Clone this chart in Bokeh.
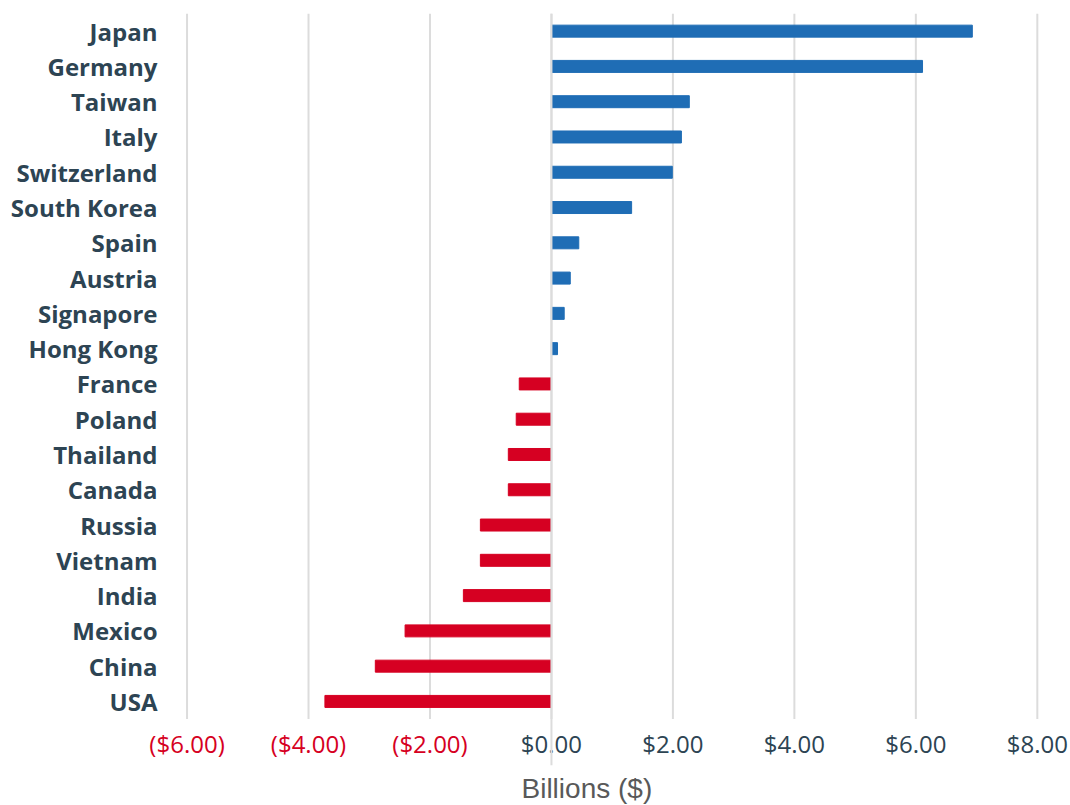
from bokeh.plotting import figure
from bokeh.models import Range1d, FixedTicker, ColumnDataSource, Span, Title
from bokeh.core.properties import value
from bokeh.embed import file_html
from bokeh.resources import INLINE

countries = ["Japan", "Germany", "Taiwan", "Italy", "Switzerland", "South Korea",
             "Spain", "Austria", "Signapore", "Hong Kong", "France", "Poland",
             "Thailand", "Canada", "Russia", "Vietnam", "India", "Mexico", "China", "USA"]
values = [6.93, 6.11, 2.27, 2.14, 1.99, 1.32, 0.45, 0.31, 0.21, 0.10,
          -0.53, -0.58, -0.71, -0.71, -1.17, -1.17, -1.45, -2.41, -2.90, -3.73]
x_ticks = [-6, -4, -2, 0, 2, 4, 6, 8]
x_tick_labels = ["($6.00)", "($4.00)", "($2.00)", "$0.00", "$2.00", "$4.00", "$6.00", "$8.00"]

BLUE = "#1f6db5"
RED = "#d60022"
DARK = "#2d4453"
GRID = "#dcdcdc"

n = len(countries)
ypos = [n - 1 - i for i in range(n)]
src = ColumnDataSource(dict(
    y=ypos,
    right=values,
    left=[0] * n,
    color=[BLUE if v >= 0 else RED for v in values],
))

bottom_pad = 1.316  # extra room (in rows) under the bars for the tick labels
p = figure(frame_width=928, frame_height=752, output_backend="svg", toolbar_location=None,
           x_range=Range1d(-6.75, 8.53), y_range=Range1d(-0.5 - bottom_pad, n - 0.5),
           min_border_left=141, min_border_right=0, min_border_top=13, min_border_bottom=0)
p.outline_line_color = None
p.background_fill_color = "white"

# vertical grid lines, only over the bar area
p.segment(x0=x_ticks, x1=x_ticks, y0=[-0.5] * len(x_ticks), y1=[n - 0.5] * len(x_ticks),
          line_color=GRID, line_width=2)

p.hbar(y="y", left="left", right="right", height=0.34, color="color", source=src)

p.add_layout(Span(location=0, dimension="height", line_color=GRID, line_width=2))

# tick labels for the value axis (negatives in red)
tick_src = ColumnDataSource(dict(
    x=x_ticks, y=[-0.5] * len(x_ticks), text=x_tick_labels,
    color=[RED if t < 0 else DARK for t in x_ticks],
))
p.text(x="x", y="y", text="text", source=tick_src, text_color="color",
       text_align="center", text_baseline="middle", y_offset=24,
       text_font=value("Open Sans"), text_font_size="24px")

# category axis
p.yaxis.ticker = FixedTicker(ticks=ypos)
p.yaxis.major_label_overrides = {yy: c for yy, c in zip(ypos, countries)}
p.yaxis.axis_line_color = None
p.yaxis.major_tick_line_color = None
p.yaxis.minor_tick_line_color = None
p.yaxis.major_tick_out = 0
p.yaxis.major_tick_in = 0
p.yaxis.major_label_text_font = "Open Sans"
p.yaxis.major_label_text_font_style = "bold"
p.yaxis.major_label_text_font_size = "24px"
p.yaxis.major_label_text_color = DARK
p.yaxis.major_label_standoff = -16
p.ygrid.grid_line_color = None

p.xaxis.visible = False
p.xgrid.grid_line_color = None

p.add_layout(Title(text="Billions ($)", align="left", offset=380, standoff=11,
                   text_font="Liberation Sans", text_font_style="normal",
                   text_font_size="28px", text_color="#595959"), "below")

open("out.html", "w").write(file_html(p, INLINE))
